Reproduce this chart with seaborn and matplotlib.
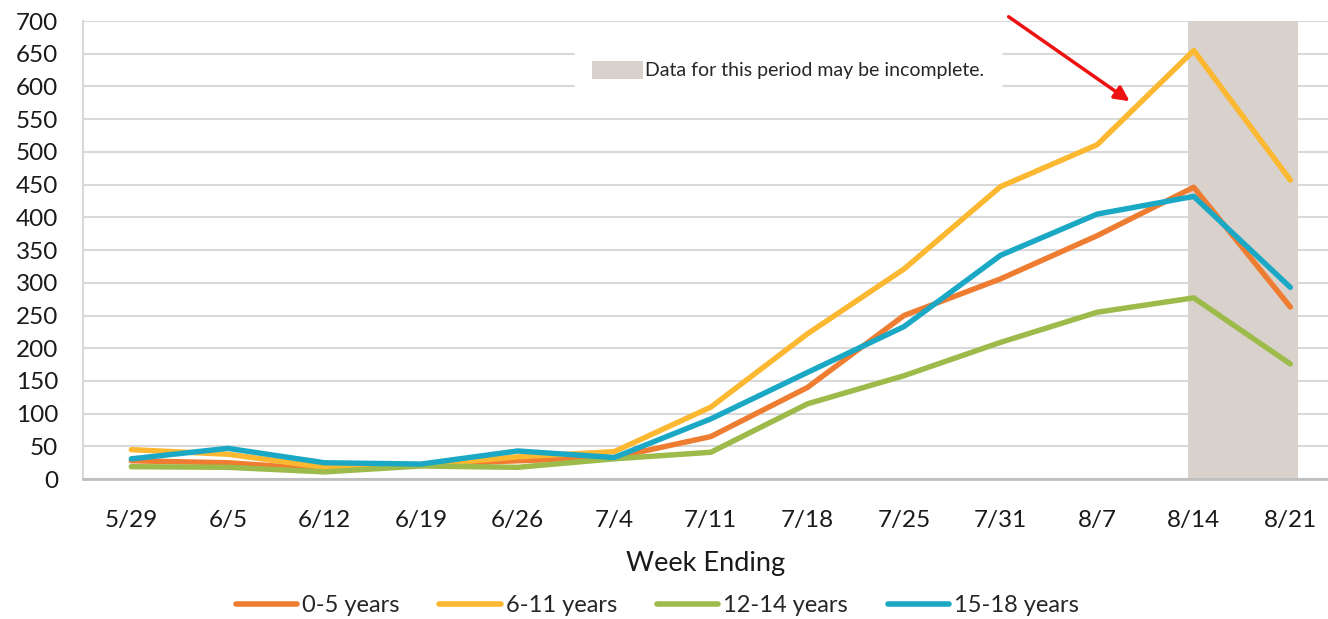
import numpy as np
import pandas as pd
import matplotlib
matplotlib.use("Agg")
import matplotlib.pyplot as plt
from matplotlib.patches import Patch
import seaborn as sns

# Weekly counts by age group
weeks = ['5/29', '6/5', '6/12', '6/19', '6/26', '7/4', '7/11',
         '7/18', '7/25', '7/31', '8/7', '8/14', '8/21']
age_0_5 = [28, 25, 15, 22, 28, 33, 65, 140, 250, 306, 372, 446, 263]
age_6_11 = [45, 38, 18, 21, 34, 42, 110, 222, 321, 447, 511, 655, 457]
age_12_14 = [19, 18, 11, 20, 18, 31, 41, 115, 158, 209, 255, 277, 176]
age_15_18 = [31, 47, 25, 23, 43, 33, 92, 163, 233, 342, 405, 432, 293]

groups = ['0-5 years', '6-11 years', '12-14 years', '15-18 years']
colors = ['#EE7D31', '#FBB830', '#9DBB4A', '#1AA8C5']
incomplete_weeks = ['8/14', '8/21']

df = pd.DataFrame({
    'week': weeks * 4,
    'count': age_0_5 + age_6_11 + age_12_14 + age_15_18,
    'group': np.repeat(groups, len(weeks)),
})

sns.set_style('white')
plt.rcParams['font.family'] = ['Lato', 'DejaVu Sans']

fig = plt.figure(figsize=(13.28, 6.19), dpi=100)
ax = fig.add_axes([0.0625, 0.226, 0.9375, 0.740])

# shaded "incomplete" period
i0 = weeks.index(incomplete_weeks[0])
i1 = weeks.index(incomplete_weeks[-1])
ax.axvspan(i0 - 0.06, i1 + 0.08, color='#d9d1cc', zorder=1, lw=0)

sns.lineplot(data=df, x='week', y='count', hue='group', palette=colors,
             sort=False, linewidth=3.9, ax=ax, legend=False, zorder=3)

ax.set_xlim(-0.5, 12.39)
ax.set_ylim(0, 700)
ax.set_yticks(np.arange(0, 701, 50))
ax.grid(axis='y', color='#d9d9d9', linewidth=1.5, zorder=0)
ax.set_axisbelow(True)
for s in ['top', 'right']:
    ax.spines[s].set_visible(False)
ax.spines['left'].set_color('#d9d9d9')
ax.spines['left'].set_linewidth(1.5)
ax.spines['bottom'].set_color('#bfbfbf')
ax.spines['bottom'].set_linewidth(2)

ax.tick_params(axis='y', labelsize=17.5, pad=18, length=0, labelcolor='#1a1a1a')
ax.tick_params(axis='x', labelsize=17.5, pad=22, length=0, labelcolor='#1a1a1a')
ax.set_xlabel('Week Ending', fontsize=19.5, labelpad=15, color='#1a1a1a')
ax.set_ylabel('')

# red arrow pointing at the 6-11 years rise
ax.annotate('', xy=(10.36, 575), xytext=(9.06, 709), annotation_clip=False,
            arrowprops=dict(arrowstyle='-|>', color='#ee1111', lw=2.5,
                            mutation_scale=22), zorder=5)

# incomplete-data note box
note = ax.legend(handles=[Patch(facecolor='#d9d1cc', edgecolor='none')],
                 labels=['Data for this period may be incomplete.'],
                 loc='upper left', bbox_to_anchor=(0.395, 0.952),
                 frameon=True, fancybox=False, framealpha=1,
                 facecolor='white', edgecolor='white', fontsize=14,
                 handlelength=2.6, handleheight=1.1, handletextpad=0.1,
                 borderpad=0.9, borderaxespad=0)
ax.add_artist(note)

# series legend below the chart
handles = [plt.Line2D([], [], color=c, linewidth=4) for c in colors]
fig.legend(handles, groups, loc='center', bbox_to_anchor=(0.495, 1 - 606 / 619),
           ncol=4, frameon=False, fontsize=17, handlelength=2.6,
           handletextpad=0.2, columnspacing=1.7)

fig.savefig('out.png', dpi=100)
